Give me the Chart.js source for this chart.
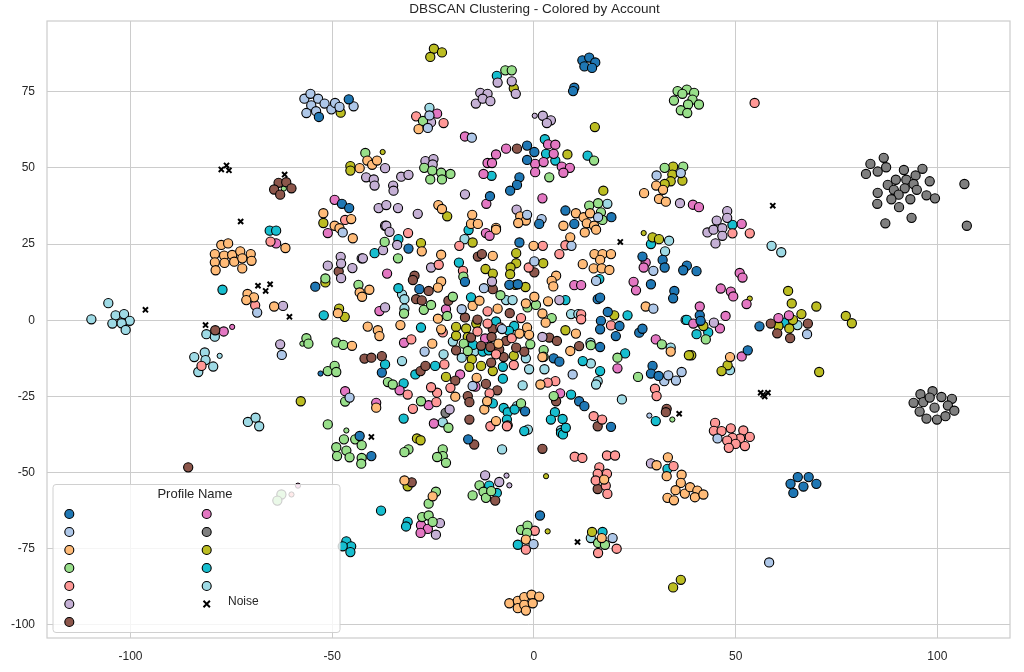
<!DOCTYPE html>
<html>
<head>
<meta charset="utf-8">
<script src="https://cdn.jsdelivr.net/npm/chart.js@4"></script>
<style>
  html, body { margin: 0; padding: 0; background: #fff; }
  #wrap { width: 1024px; height: 672px; position: relative; }
</style>
</head>
<body>
<div id="wrap"><canvas id="dbscan"></canvas></div>
<script>
'use strict';

// axis ticks and range
var xTicks = [-100, -50, 0, 50, 100];
var yTicks = [-100, -75, -50, -25, 0, 25, 50, 75];
var xRange = [-120.7, 118.0];
var yRange = [-104.3, 98.2];

// profile names are blank in the source legend
var profileNames = ['', '', '', '', '', '', '', '', '', '', '', ''];

// cluster points per account [x, y]
var darkBlue = [[12.0,85.3],[13.7,86.2],[15.2,84.6],[12.5,83.3],[14.4,82.8],[10.0,76.3],[9.7,75.2],
  [-53.3,66.7],[-45.9,72.5],[-47.6,38.2],[-45.8,36.8],[-54.2,11.0],
  [-1.7,57.3],[0.1,55.2],[-1.7,52.6],[-3.6,46.9],[-4.2,44.4],[-5.9,42.5],[-10.9,40.7],
  [7.8,36.0],[10.0,31.6],[19.2,33.8],[1.3,31.6],[37.9,17.9],[40.3,16.1],[37.0,16.4],
  [41.1,1.6],[41.3,-0.2],[55.9,-2.0],[53.0,-9.9],[-31.1,23.5],[-3.6,25.5],[26.9,20.9],[31.9,19.8],[32.4,17.3],
  [-17.1,12.6],[-6.1,11.6],[-4.0,11.8],[29.0,11.8],[34.8,9.6],[34.5,7.2],[-28.4,10.2],
  [15.8,6.9],[16.4,7.4],[18.3,2.7],[16.6,-0.2],[16.4,-3.0],[21.2,-1.9],[20.3,-5.2],[26.1,-4.1],[26.9,-2.8],[16.4,-8.8],
  [-37.7,-17.2],[29.4,-15.0],[29.0,-17.5],[30.9,-18.3],[4.9,-12.5],[6.3,-13.6],
  [11.2,-26.6],[12.5,-28.2],[19.1,-35.0],[-2.2,-29.9],[-43.2,-38.0],[-40.3,-44.6],[-16.3,-39.1],[1.5,-64.1],
  [65.4,-51.5],[68.1,-51.5],[63.6,-53.7],[66.8,-54.6],[70.0,-53.7],[64.3,-56.7]];

var lightBlue = [[-56.9,72.7],[-55.4,74.3],[-53.5,72.7],[-55.2,70.5],[-56.4,68.0],[-54.0,68.6],[-51.9,71.1],
  [-50.2,69.2],[-49.3,71.3],[-48.2,70.0],[-44.7,70.2],[-26.3,63.1],[-25.9,67.2],[-15.4,59.9],
  [30.4,47.5],[36.4,48.3],[-1.7,34.6],[1.9,33.2],[15.9,33.8],[-47.4,28.8],
  [-68.6,2.5],[-62.5,-11.4],[-45.7,-25.4],[9.3,24.4],[0.1,19.3],[29.6,16.2],[-12.4,10.5],[15.4,12.9],[29.6,3.8],
  [-17.9,3.6],[-7.9,-2.9],[-27.1,-10.3],[9.6,-17.8],[32.3,-20.0],[33.3,-18.1],[35.2,-19.8],[36.6,-17.0],
  [67.7,-4.6],[-15.2,-21.6],[45.5,-38.8],[-0.1,-73.5],[19.5,-71.5],[58.3,-79.5]];

var orange = [[-41.3,52.4],[-40.1,51.0],[-38.9,52.4],[-43.2,49.9],
  [-52.2,35.1],[-45.3,33.2],[-49.4,31.0],[-48.2,30.2],[-44.9,26.9],[-28.6,62.7],
  [-23.7,37.8],[-22.8,36.5],[-15.3,34.6],[-15.6,31.6],[-13.9,31.6],[-9.4,30.3],
  [-3.4,34.1],[-2.0,32.7],[-3.9,31.9],[10.4,35.1],[7.3,31.0],[12.3,33.8],[13.9,35.1],[13.1,31.8],[14.9,31.0],
  [27.3,41.7],[30.3,44.2],[32.0,42.8],[31.0,39.8],[32.7,38.9],[-61.6,23.7],
  [-77.5,24.7],[-75.8,25.2],[-79.1,21.7],[-76.8,21.2],[-74.8,21.4],[-72.8,22.6],[-70.2,21.7],[-79.1,19.0],
  [-76.7,18.8],[-74.3,19.2],[-72.3,20.3],[-70.0,19.5],[-78.9,16.4],[-72.3,17.0],
  [-71.0,8.6],[-69.4,7.5],[-71.3,6.6],[-64.4,4.5],[-48.6,2.3],[-45.1,-8.4],[-43.2,9.1],[-42.6,7.7],[-40.8,10.0],
  [-9.4,29.7],[-0.1,24.4],[9.0,27.2],[12.6,28.8],[15.4,29.7],[-10.2,21.1],[-23.0,21.5],[-27.8,22.6],
  [15.0,21.7],[17.0,21.7],[19.1,21.7],[16.4,19.8],[12.1,18.4],[14.8,17.0],[16.8,17.0],[18.7,16.5],
  [-23.0,12.7],[-23.8,10.7],[5.5,14.6],[4.4,12.9],[4.8,11.1],[27.7,4.5],[-23.8,0.5],[10.4,-4.4],[33.9,-10.3],
  [-41.2,-2.1],[-38.7,-3.3],[-38.3,-5.2],[-33.1,-1.6],[-23.0,-3.0],[-25.2,-7.7],
  [-15.2,4.7],[-13.5,6.4],[-9.0,3.8],[-2.0,5.5],[0.1,7.7],[3.5,6.2],[2.1,2.2],[2.9,-0.8],[9.0,-10.1],[2.1,-12.1],
  [-8.8,-7.7],[-3.6,-4.4],[-1.7,-2.4],[-1.2,-4.8],[48.6,-12.1],
  [1.6,-21.1],[-19.5,-25.1],[-14.2,-18.9],[-12.3,-29.3],[-11.6,-26.6],[-9.4,-33.1],[-39.1,-28.7],
  [-32.1,-52.6],[-25.1,-57.8],[17.4,-52.3],
  [30.4,-47.6],[33.2,-45.0],[32.9,-51.2],[36.6,-50.7],[36.4,-53.4],[35.1,-55.8],[33.1,-58.3],[34.7,-59.1],
  [37.4,-56.9],[38.7,-54.8],[40.5,-55.9],[39.9,-58.1],[42.0,-57.2],[-2.0,-72.0],[16.8,-71.5],
  [-6.1,-92.9],[-4.0,-92.1],[-2.4,-90.9],[-0.6,-90.1],[1.3,-90.7],[-4.0,-94.5],[-2.4,-93.4],[-2.0,-95.3],[-0.3,-92.9]];

var green = [[-7.1,82.0],[-5.5,82.0],
  [37.9,75.7],[39.7,74.6],[39.3,72.4],[40.9,70.8],[38.2,70.8],[36.4,68.9],[38.0,68.0],[35.6,75.2],[34.7,72.1],[36.8,74.3],
  [-27.5,65.4],[-41.8,54.9],[-27.2,50.0],[-25.2,49.1],[-25.7,46.2],[-23.0,48.4],[-22.8,46.2],[-20.7,48.0],
  [3.8,46.9],[14.9,52.4],[32.4,50.0],[37.0,50.4],[13.7,37.6],[15.9,38.4],[16.6,35.4],[17.0,32.9],
  [-51.7,13.7],[-43.5,11.6],[-37.0,25.7],[-33.7,20.3],[-17.5,14.3],[-32.2,2.2],[-27.3,3.4],[-25.5,5.0],
  [-56.4,-5.9],[-55.9,-7.7],[-49.0,-7.3],[-47.3,-8.1],[-51.1,-16.7],[-49.4,-15.0],[-49.0,-17.0],
  [-46.8,-26.7],[-51.1,-34.2],
  [-20.1,7.7],[-21.5,1.4],[-8.3,8.2],[-1.6,4.2],[0.5,5.0],[4.4,0.7],[-17.4,-7.7],[-16.4,-10.1],[-0.9,-7.9],
  [2.4,-9.8],[2.4,-12.0],[14.1,-8.2],[31.7,-7.9],[42.6,-6.3],[20.7,-12.3],[25.8,-18.6],
  [4.9,-24.9],[-3.2,-27.3],[-28.0,-26.6],[-36.2,-20.3],[-35.0,-21.1],[-21.2,-35.3],
  [-47.1,-39.1],[-44.3,-39.1],[-42.7,-41.0],[-49.0,-41.7],[-46.5,-42.8],[-48.8,-44.6],[-45.7,-45.0],[-42.7,-45.2],[-42.8,-47.1],
  [-31.1,-42.4],[-32.1,-43.3],[-22.6,-42.4],[-22.6,-44.6],[-24.0,-44.9],[-21.8,-46.8],[-24.3,-56.3],[-26.1,-60.2],
  [-13.5,-54.2],[-15.2,-57.5],[-12.5,-56.3],[-11.9,-58.3],[-10.6,-56.1],[-27.7,-64.6],[-26.1,-64.1],[-25.1,-66.2],
  [-3.2,-68.8],[-1.6,-67.4],[-1.7,-69.8],[15.9,-73.1],[17.6,-73.7],[-62.6,-57.2],[-63.6,-59.2]];

var salmon = [[54.7,71.3],[-29.2,66.9],[-22.4,64.7],[-46.8,32.9],[-65.3,25.8],[-69.1,4.9],[-82.4,-15.0],
  [-31.2,28.6],[-18.5,24.4],[2.2,24.4],[7.8,24.6],[6.3,21.7],[-23.6,18.2],[-1.3,17.3],[-17.6,16.2],
  [11.7,1.9],[11.7,0.3],[19.1,-1.7],[-30.4,-6.3],
  [-11.5,2.9],[-3.2,0.7],[-22.6,-4.0],[-22.2,-14.5],[-5.0,-14.7],[-11.5,-1.1],[-8.3,-2.4],[-5.5,-5.9],[-9.4,-11.2],[-14.0,-3.7],
  [5.3,-20.0],[3.4,-20.5],[30.0,-22.5],[30.4,-24.9],
  [-24.2,-26.9],[-24.0,-23.8],[-25.5,-22.0],[-31.3,-24.4],[-30.0,-29.1],[-20.7,-22.2],[-11.0,-24.0],[-10.8,-34.8],[-6.7,-34.8],
  [14.8,-31.5],[16.9,-32.6],[49.2,28.5],[53.5,28.5],
  [44.9,-33.7],[44.6,-36.3],[46.5,-36.4],[48.8,-35.5],[51.9,-36.2],[53.5,-38.3],[51.1,-38.8],[49.2,-38.6],
  [47.9,-39.5],[50.0,-40.6],[52.3,-41.3],[48.3,-41.9],
  [10.1,-44.8],[12.0,-45.2],[18.1,-44.4],[20.1,-44.4],[16.2,-48.3],[15.8,-50.4],[18.1,-50.4],[15.3,-52.6],[17.8,-54.3],[18.2,-57.0],
  [34.6,-47.9],[0.2,-69.1],[-2.0,-75.3],[15.9,-76.4],[20.5,-75.0]];

var lilac = [[-9.0,78.0],[-5.5,78.4],[-4.5,74.3],[-13.3,74.6],[-11.5,74.3],[-14.4,71.1],[-12.7,72.7],[-10.8,71.9],
  [2.2,67.1],[4.2,65.6],[3.2,64.7],[-25.5,65.0],[-17.1,41.3],
  [-36.9,49.9],[-41.6,46.9],[-39.7,46.2],[-39.5,44.2],[-32.9,47.1],[-31.1,47.7],[-34.9,44.2],[-34.8,42.5],
  [-26.9,52.2],[-24.9,52.9],[-25.1,51.1],[-38.5,36.8],[-36.6,37.8],[-33.7,36.8],[-28.8,34.9],[-36.9,31.0],
  [-4.3,36.3],[36.2,38.4],[47.9,35.8],[47.9,33.6],[45.3,32.7],
  [43.0,28.8],[44.5,29.7],[46.7,30.2],[46.7,27.7],[45.0,25.2],
  [-47.9,20.8],[-47.8,18.6],[-47.8,13.8],[-51.1,17.9],[-45.0,17.1],[-42.7,20.3],
  [-36.6,31.0],[-35.8,29.0],[-33.9,24.7],[-37.4,23.0],[-42.4,20.3],[-25.5,17.3],[-10.4,12.7],
  [-62.2,4.7],[-62.9,-7.9],[-36.9,4.2],[6.3,6.6],[2.1,-5.5],[44.6,-0.8],[-20.9,-29.3],
  [29.0,-47.0],[-12.1,-50.9],[-8.6,-53.1],[-23.3,-66.6],[-24.3,-70.4]];

var brown = [[-63.3,45.1],[-61.4,45.3],[-60.1,43.3],[-64.4,42.9],[-62.9,41.2],
  [-48.4,16.0],[-79.0,-3.3],[-85.7,-48.3],[-4.2,56.3],
  [-13.9,20.9],[-12.9,21.7],[0.1,15.7],[-29.6,14.6],[-30.0,13.2],[-10.2,10.2],[-26.1,9.6],[-29.2,6.9],[-27.8,6.5],
  [-21.2,6.4],[-6.0,2.3],[3.8,-5.7],[5.7,-6.8],[-17.1,0.9],[-19.3,-9.9],[-10.6,-13.9],[-7.5,-12.1],[-2.4,-10.3],
  [-4.4,-9.0],[-14.0,0.2],[-10.2,-2.9],[-10.5,-5.5],[-13.1,-8.4],[-10.8,-8.8],[-6.9,-6.8],[-8.6,-9.6],[-15.6,-5.7],
  [11.2,-8.5],[-42.0,-12.6],[-40.3,-12.3],[-37.7,-11.8],[-28.1,-16.7],[-26.9,-15.0],
  [-19.5,-19.8],[-11.9,-20.9],[-9.1,-23.0],[-16.4,-24.9],[-16.0,-26.9],[-16.0,-32.6],[5.5,-26.6],[15.8,-34.8],[-6.5,-34.5],
  [32.9,-29.1],[32.7,-30.2],[58.7,-1.1],[67.9,-1.1],[60.3,-4.3],[63.5,-5.9],
  [2.1,-42.2],[-14.8,-40.8],[-30.3,-53.2],[15.8,-55.4],[-9.6,-59.2]];

var pink = [[-24.0,67.8],[-17.1,60.3],[-6.9,56.3],[-9.4,54.4],[-11.5,51.6],[-10.4,51.6],[-12.5,48.0],
  [3.5,57.7],[5.3,57.6],[4.9,54.6],[0.3,51.3],[2.4,51.9],[0.3,48.6],[6.9,50.4],[8.9,50.0],[7.3,48.4],
  [-11.8,38.2],[2.1,40.0],[-49.4,39.5],[-51.1,28.6],[-63.9,25.2],[-76.9,-3.7],
  [39.4,37.9],[40.9,37.1],[51.5,31.6],[-11.9,28.6],[-11.0,27.7],[27.7,18.9],[27.2,17.3],[-36.4,15.3],
  [10.0,11.5],[11.7,11.5],[24.7,12.6],[25.3,9.8],[51.0,15.5],[51.7,14.0],[46.3,10.4],[48.8,9.4],[49.4,7.8],[52.7,5.3],
  [41.1,4.5],[47.5,1.4],[46.1,-2.7],[39.5,-1.1],[60.6,0.7],[63.2,1.6],
  [-38.3,3.0],[-21.8,3.6],[-12.1,-6.0],[-32.2,-7.4],[30.2,-6.3],[51.5,-11.9],[20.7,-15.8],[6.5,-24.0],
  [-18.3,-17.8],[-14.5,-21.8],[-33.3,-23.0],[-39.1,-27.1],[-26.1,-27.9],[-24.8,-33.9],[-46.8,-23.3],
  [-28.0,-67.3],[-26.3,-68.5],[-28.1,-69.8]];

var gray = [[86.7,53.3],[83.4,51.3],[85.2,48.8],[87.3,50.2],[82.3,48.0],[91.7,49.3],[96.3,49.7],[94.6,47.5],
  [92.3,46.1],[89.7,46.1],[87.7,44.4],[89.2,42.8],[91.9,43.3],[94.1,44.7],[94.9,42.8],[98.1,45.6],
  [85.2,41.8],[90.4,41.2],[88.6,39.7],[93.3,39.7],[97.3,41.0],[99.4,40.0],[85.1,38.2],[90.5,37.1],
  [93.6,33.6],[87.1,31.8],[106.7,44.7],[107.3,31.0],
  [95.8,-24.3],[98.8,-23.3],[101.0,-25.2],[103.6,-25.8],[94.1,-27.1],[96.5,-26.9],[98.1,-25.4],
  [99.3,-28.7],[102.6,-28.0],[104.2,-29.7],[95.6,-30.0],[97.3,-32.3],[99.9,-32.6],[102.0,-31.5],
  [-21.9,-30.4]];

var olive = [[-24.8,89.1],[-22.8,87.9],[-25.7,86.4],[-5.0,76.1],[15.1,63.4],[-47.9,68.1],
  [-45.5,50.6],[-45.5,49.1],[8.3,54.4],[17.2,42.5],[34.5,50.4],[34.3,47.8],[36.8,45.8],[33.9,45.6],[32.4,44.7],
  [-52.2,31.9],[-21.5,34.1],[-48.3,3.8],[-46.9,1.1],[-51.7,12.4],
  [-28.0,25.3],[-15.2,25.5],[-4.4,22.0],[-4.4,18.7],[-5.8,17.3],[2.3,18.7],[-12.0,16.8],[-10.2,15.3],[-5.9,15.1],
  [-4.6,11.6],[-2.1,10.9],[29.4,27.2],[31.0,26.6],[19.9,1.6],
  [7.8,-3.3],[-19.3,-2.2],[-16.8,-2.7],[-14.3,-1.1],[-19.3,-5.1],[-16.4,-5.5],[-15.4,-12.8],[-16.0,-15.3],
  [-13.1,-15.0],[-10.2,-16.7],[-5.0,-11.7],
  [42.0,-1.9],[39.0,-11.5],[48.0,-14.8],[46.5,-16.7],[38.4,-11.5],
  [63.0,9.6],[63.9,5.5],[70.0,4.5],[66.3,2.0],[64.2,0.1],[60.6,-1.9],[63.3,-2.7],[77.3,1.4],[78.8,-1.0],[70.7,-17.0],
  [-21.8,-18.6],[-57.8,-26.6],[-29.0,-38.8],[-28.1,-39.4],[-31.3,-54.5],[14.4,-69.5],[34.5,-87.7],[36.4,-85.2]];

var cyan = [[-9.2,80.2],[2.7,59.4],[3.0,54.6],[5.3,52.4],[13.3,54.0],[-10.5,47.4],
  [-65.5,29.4],[-63.9,29.4],[-77.2,10.0],[-52.1,1.6],
  [-33.6,26.6],[-39.5,22.0],[-16.2,29.6],[29.0,25.0],[-18.6,18.9],[16.2,13.5],[-33.6,10.5],
  [49.2,31.3],[37.9,0.1],[40.3,-4.6],[43.2,-4.0],[41.3,-0.8],[62.1,-0.8],[23.2,1.6],
  [-15.6,7.5],[7.8,6.6],[-15.1,-8.1],[-12.7,-10.3],[-7.7,-15.3],[-9.4,-0.4],[-4.9,-1.9],[-6.2,-3.5],[-11.2,-9.9],
  [-28.0,-2.4],[-36.9,-14.5],[-29.4,-17.8],[-24.5,-15.0],[12.1,-13.4],[16.4,-16.7],[22.6,-10.9],
  [9.2,-24.4],[5.2,-30.2],[4.2,-32.6],[7.1,-32.4],[30.2,-33.1],
  [-32.3,-20.7],[-32.3,-32.3],[-10.2,-27.3],[-7.5,-28.8],[-6.5,-30.2],[-4.8,-29.3],[-6.7,-32.6],[-7.7,-19.2],[-2.4,-36.4],
  [6.7,-37.0],[7.2,-37.5],[7.9,-35.3],
  [-46.5,-72.6],[-45.3,-74.2],[-47.4,-74.2],[-45.5,-76.1],
  [-37.9,-62.5],[-11.1,-54.3],[-9.2,-56.7],[33.1,-48.8],[-31.3,-66.2],[-31.7,-67.7],[-4.0,-73.7],[17.0,-69.5]];

var paleCyan = [[-25.9,69.7],
  [-109.7,0.3],[-105.5,5.6],[-103.7,1.6],[-101.6,2.0],[-100.2,-0.2],[-104.5,-1.1],[-102.2,-1.0],[-101.2,-3.2],
  [-81.2,-4.6],[-79.1,-5.4],[-81.6,-10.6],[-84.2,-12.1],[-81.4,-13.1],[-79.5,-15.2],[-83.2,-17.0],
  [-70.9,-33.4],[-69.0,-32.0],[-68.1,-34.8],
  [18.2,38.2],[58.9,24.4],[61.3,22.3],[-17.2,26.6],[33.5,26.1],[32.5,22.6],[-32.7,8.5],[-32.1,6.9],[-32.1,3.8],
  [-6.9,6.6],[-5.3,6.6],[9.2,2.0],[11.0,2.0],[2.6,-16.1],[-1.2,-16.1],[-20.1,-7.0],[-14.8,-10.3],[-17.9,-12.3],
  [-22.4,-11.2],[-2.0,-12.5],
  [37.6,0.1],[65.3,-1.6],[48.6,-16.4],[14.0,-7.4],[14.1,-14.2],[33.9,-9.0],
  [-32.7,-13.4],[15.8,-20.0],[15.4,-21.1],[21.8,-26.0],[-2.8,-21.4],[-4.2,-28.2],[-22.6,-33.5],[6.7,-36.1],[-1.5,-35.9],
  [-7.9,-42.4],[14.1,-71.5]];

// the few points drawn with a smaller marker
var smallDarkBlue = [[-52.9,-17.5]];
var smallLightBlue = [[28.6,-31.3]];
var smallGreen = [[-62.0,43.2],[-57.4,-7.7],[-46.5,-36.2],[34.3,-32.6]];
var smallSalmon = [[-60.1,-57.2]];
var smallLilac = [[0.2,67.1],[-6.8,-51.0],[-6.1,-54.2]];
var smallPink = [[-74.8,-2.2],[-58.5,-54.3]];
var smallOlive = [[-37.5,55.2],[27.2,28.6],[53.5,7.1],[3.0,-51.2],[3.4,-69.3]];
var smallPaleCyan = [[-77.9,-11.7]];

var noise = [[-76.2,50.8],[-77.5,49.5],[-75.6,49.2],[-61.8,47.8],[-72.7,32.4],[-68.4,11.3],[-66.5,9.6],[-65.4,11.8],
  [-60.6,1.1],[-96.3,3.4],[-81.4,-1.6],[-40.3,-38.3],[21.4,25.7],[59.2,37.6],
  [56.2,-23.8],[57.2,-25.0],[58.0,-23.8],[56.8,-24.5],[36.0,-30.7],[10.8,-72.8]];

var profileColors = ['#1f77b4', '#aec7e8', '#ffbb78', '#98df8a', '#ff9896', '#c5b0d5',
  '#8c564b', '#e377c2', '#7f7f7f', '#bcbd22', '#17becf', '#9edae5'];

var clusters = [darkBlue, lightBlue, orange, green, salmon, lilac, brown, pink, gray, olive, cyan, paleCyan];
var smallClusters = [smallDarkBlue, smallLightBlue, [], smallGreen, smallSalmon, smallLilac, [], smallPink, [], smallOlive, [], smallPaleCyan];

function toPoints(list) {
  return list.map(function(p) { return { x: p[0], y: p[1] }; });
}

var datasets = [];
clusters.forEach(function(list, i) {
  datasets.push({
    label: profileNames[i],
    data: toPoints(list),
    backgroundColor: profileColors[i],
    borderColor: '#000',
    borderWidth: 1.1,
    pointRadius: 4.6
  });
});
smallClusters.forEach(function(list, i) {
  if (!list.length) return;
  datasets.push({
    label: profileNames[i],
    data: toPoints(list),
    backgroundColor: profileColors[i],
    borderColor: '#000',
    borderWidth: 1,
    pointRadius: 2.6
  });
});
datasets.push({
  label: 'Noise',
  data: toPoints(noise),
  pointStyle: 'crossRot',
  backgroundColor: '#000',
  borderColor: '#000',
  borderWidth: 2,
  pointRadius: 3.6
});

var fontFamily = '"Liberation Sans", Arial, sans-serif';

// title, axes frame and the in-plot legend
var decorations = {
  id: 'decorations',
  beforeDatasetsDraw: function(chart) {
    var ctx = chart.ctx;
    var a = chart.chartArea;
    ctx.save();
    ctx.strokeStyle = '#cccccc';
    ctx.lineWidth = 1.2;
    ctx.strokeRect(a.left, a.top, a.right - a.left, a.bottom - a.top);
    ctx.restore();
  },
  afterDatasetsDraw: function(chart) {
    var ctx = chart.ctx;
    var a = chart.chartArea;
    ctx.save();
    ctx.fillStyle = '#262626';
    ctx.font = '13.5px ' + fontFamily;
    ctx.textAlign = 'center';
    ctx.textBaseline = 'middle';
    ctx.fillText('DBSCAN Clustering - Colored by Account', (a.left + a.right) / 2 + 6, 9);

    // legend box
    var bx = 53, by = 484.5, bw = 287, bh = 148;
    ctx.beginPath();
    ctx.roundRect(bx, by, bw, bh, 3);
    ctx.fillStyle = 'rgba(255,255,255,0.8)';
    ctx.fill();
    ctx.strokeStyle = '#d0d0d0';
    ctx.lineWidth = 1;
    ctx.stroke();

    ctx.fillStyle = '#262626';
    ctx.font = '13px ' + fontFamily;
    ctx.fillText('Profile Name', 195, 494.5);

    var rowY = 514, rowGap = 18;
    profileColors.forEach(function(c, i) {
      var col = i < 7 ? 0 : 1;
      var row = i < 7 ? i : i - 7;
      var mx = col === 0 ? 69.3 : 206.7;
      var my = rowY + row * rowGap;
      ctx.beginPath();
      ctx.arc(mx, my, 4.5, 0, Math.PI * 2);
      ctx.fillStyle = c;
      ctx.fill();
      ctx.strokeStyle = '#000';
      ctx.lineWidth = 1.1;
      ctx.stroke();
      if (profileNames[i]) {
        ctx.fillStyle = '#262626';
        ctx.textAlign = 'left';
        ctx.fillText(profileNames[i], mx + 20, my);
        ctx.textAlign = 'center';
      }
    });
    // noise entry
    var nx = 206.7, ny = rowY + 5 * rowGap;
    ctx.beginPath();
    ctx.moveTo(nx - 3.2, ny - 3.2); ctx.lineTo(nx + 3.2, ny + 3.2);
    ctx.moveTo(nx + 3.2, ny - 3.2); ctx.lineTo(nx - 3.2, ny + 3.2);
    ctx.strokeStyle = '#000';
    ctx.lineWidth = 2;
    ctx.stroke();
    ctx.fillStyle = '#262626';
    ctx.font = '12px ' + fontFamily;
    ctx.textAlign = 'left';
    ctx.fillText('Noise', 228, ny - 2);
    ctx.restore();
  }
};

new Chart(document.getElementById('dbscan'), {
  type: 'scatter',
  data: { datasets: datasets },
  plugins: [decorations],
  options: {
    responsive: true,
    maintainAspectRatio: false,
    animation: false,
    layout: { padding: { top: 21, right: 14, left: 0, bottom: 0 } },
    plugins: {
      legend: { display: false },
      title: { display: false },
      tooltip: { enabled: false }
    },
    scales: {
      x: {
        type: 'linear',
        min: xRange[0],
        max: xRange[1],
        afterBuildTicks: function(scale) {
          scale.ticks = xTicks.map(function(v) { return { value: v }; });
        },
        afterFit: function(scale) { scale.height = 34; },
        grid: { color: '#cccccc', lineWidth: 1, drawTicks: false },
        border: { display: false },
        ticks: { color: '#262626', font: { family: fontFamily, size: 12 }, padding: 11, maxRotation: 0 }
      },
      y: {
        type: 'linear',
        min: yRange[0],
        max: yRange[1],
        afterBuildTicks: function(scale) {
          scale.ticks = yTicks.map(function(v) { return { value: v }; });
        },
        afterFit: function(scale) { scale.width = 47; },
        grid: { color: '#cccccc', lineWidth: 1, drawTicks: false },
        border: { display: false },
        ticks: { color: '#262626', font: { family: fontFamily, size: 12 }, padding: 12 }
      }
    }
  }
});
</script>
</body>
</html>
